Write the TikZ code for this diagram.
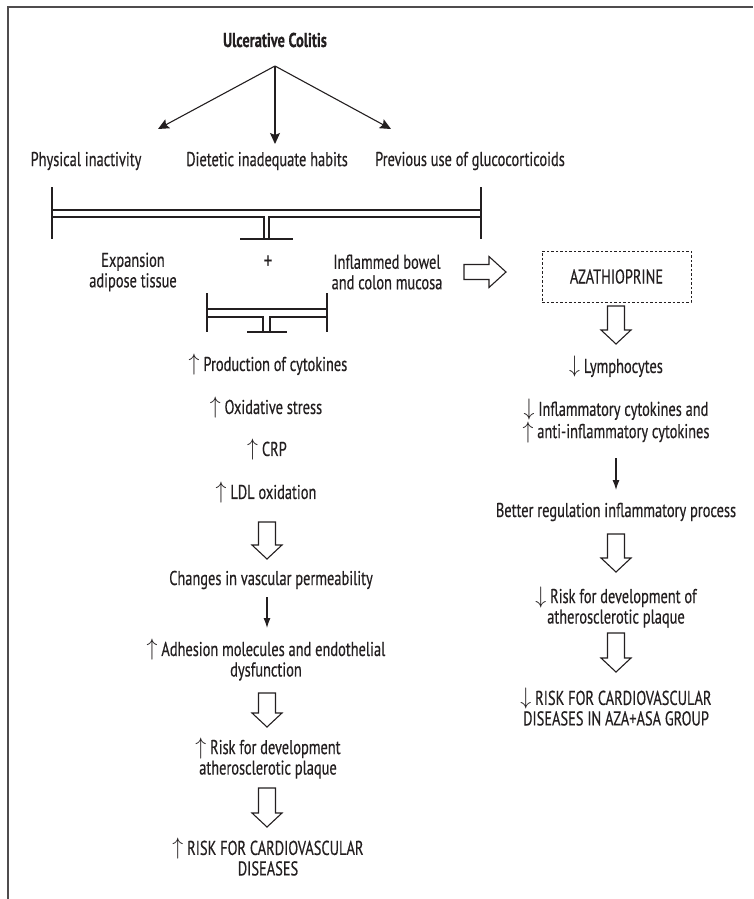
\documentclass[tikz,border=0pt]{standalone}
\usepackage{fontspec}
\setmainfont{PT Sans}[FakeStretch=0.72,FakeBold=0.4]
\usetikzlibrary{arrows.meta}
\definecolor{ink}{HTML}{231F20}
\newcommand\hdown[3]{\draw[hollow] ({#1-8.5},#2) -- ({#1+8.5},#2) -- ({#1+8.5},{#3-14}) -- ({#1+15},{#3-14}) -- (#1,#3) -- ({#1-15},{#3-14}) -- ({#1-8.5},{#3-14}) -- cycle;}
\newcommand\up{\scalebox{1.05}[1.15]{$\uparrow$}}
\newcommand\dn{\scalebox{1.05}[1.15]{$\downarrow$}}
\begin{document}
\begin{tikzpicture}[x=1pt,y=-1pt,
  txt/.style={text=ink,font=\fontsize{20}{20.5}\selectfont,align=center,inner sep=0pt},
  thin/.style={draw=ink,line width=1.1pt,-{Latex[length=10pt,width=7pt]}},
  top/.style={draw=ink,line width=1.1pt,-{Stealth[length=11pt,width=10pt,inset=2pt]}},
  hollow/.style={draw=ink,line width=1.1pt,fill=white,line join=miter},
  brk/.style={draw=ink,line width=1.1pt},
  bar/.style={draw=ink,line width=1.8pt}]
\useasboundingbox (0,0) rectangle (753,899);
% frame
\draw[draw=ink!80,line width=1.6pt] (753,7) -- (8,7) -- (8,899);
% top
\node[txt,font=\fontsize{20}{20.5}\selectfont\bfseries] (uc) at (275,40) {Ulcerative Colitis};
\coordinate (ucs) at (275,66);
\node[txt] (pi) at (86,161) {Physical inactivity};
\node[txt] (dh) at (267,161) {Dietetic inadequate habits};
\node[txt] (pu) at (470,161) {Previous use of glucocorticoids};
\coordinate (el) at (158,129);
\coordinate (ed) at (275,144);
\coordinate (er) at (391,129);
\draw[top] (ucs) -- (el);
\draw[top] (ucs) -- (ed);
\draw[top] (ucs) -- (er);
% bracket 1
\draw[brk] (52,187) -- (52,239);
\draw[brk] (481,187) -- (481,239);
\draw[brk] (52,210) -- (481,210);
\draw[brk] (52,217) -- (264,217) -- (264,239);
\draw[brk] (481,217) -- (269,217) -- (269,239);
\draw[bar] (240,239) -- (293,239);
% middle row
\node[txt] (ea) at (133,272) {Expansion\\adipose tissue};
\node[txt,font=\fontsize{24}{24}\selectfont] (plus) at (268,262) {+};
\node[txt] (ib) at (387,272) {Inflammed bowel\\and colon mucosa};
\draw[hollow] (464,264.5) -- (489,264.5) -- (489,256.5) -- (506,272) -- (489,287.5) -- (489,279.5) -- (464,279.5) -- cycle;
\node[txt,draw=ink,dashed,line width=1pt,dash pattern=on 2.5pt off 2pt,minimum width=149pt,minimum height=51pt] (aza) at (616.5,276.5) {AZATHIOPRINE};
% bracket 2
\draw[brk] (207,293) -- (207,332);
\draw[brk] (327,293) -- (327,332);
\draw[brk] (207,309) -- (327,309);
\draw[brk] (207,317) -- (263,317) -- (263,332);
\draw[brk] (327,317) -- (270,317) -- (270,332);
\draw[bar] (247,332) -- (287,332);
% left chain
\node[txt] (prod) at (268,365) {\up\ Production of cytokines};
\node[txt] (ox) at (266,408) {\up\ Oxidative stress};
\node[txt] (crp) at (267,450) {\up\ CRP};
\node[txt] (ldl) at (266,493) {\up\ LDL oxidation};
\hdown{267}{522}{559}
\node[txt] (chg) at (271,580) {Changes in vascular permeability};
\coordinate (a1s) at (267,597);
\coordinate (a1e) at (267,628);
\draw[thin] (a1s) -- (a1e);
\node[txt] (adh) at (266,660) {\up\ Adhesion molecules and endothelial\\dysfunction};
\hdown{267}{693}{727}
\node[txt] (riskl) at (268,758) {\up\ Risk for development\\atherosclerotic plaque};
\hdown{267}{788}{827}
\node[txt] (cvdl) at (268,857) {\up\ RISK FOR CARDIOVASCULAR\\DISEASES};
% right chain
\hdown{616}{306}{344}
\node[txt] (lym) at (616,367) {\dn\ Lymphocytes};
\node[txt] (infl) at (616,421) {\dn\ Inflammatory cytokines and\\\up\ anti-inflammatory cytokines};
\coordinate (a2s) at (616,458);
\coordinate (a2e) at (616,490);
\draw[thin] (a2s) -- (a2e);
\node[txt] (bet) at (616,512) {Better regulation inflammatory process};
\hdown{616}{534}{572}
\node[txt] (riskr) at (616,607) {\dn\ Risk for development of\\atherosclerotic plaque};
\hdown{616}{633}{672}
\node[txt] (cvdr) at (616,707) {\dn\ RISK FOR CARDIOVASCULAR\\DISEASES IN AZA+ASA GROUP};
\end{tikzpicture}
\end{document}
